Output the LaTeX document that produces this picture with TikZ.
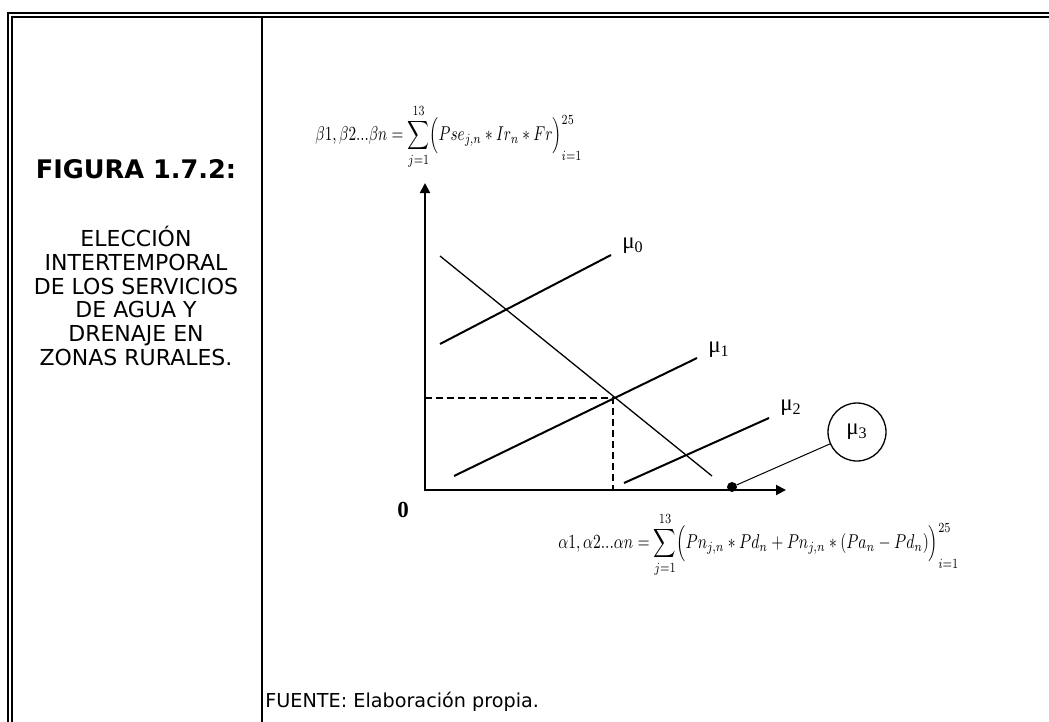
\documentclass[tikz,border=0pt]{standalone}
\usepackage{fontspec}
\usepackage{graphicx}
\setmainfont{DejaVu Sans}
\newfontfamily\tnr{Liberation Serif}
\usetikzlibrary{positioning, arrows.meta}
\newcommand\parscripts[2]{\mathclose{\Bigr)}\rlap{\raisebox{8pt}{$\scriptstyle #1$}}\raisebox{-10pt}{$\scriptstyle #2$}}
\tikzset{
    frame/.style={line width=1pt},
    axis/.style={line width=1pt},
    budget/.style={line width=1pt},
    demand/.style={line width=0.65pt},
    guide/.style={line width=0.65pt, dash pattern=on 3.5pt off 2pt},
    label/.style={font=\tnr\fontsize{11.5}{13}\selectfont, inner sep=1pt},
    formula/.style={font=\fontsize{10}{12}\selectfont, inner sep=0pt},
    title/.style={align=center, font=\fontsize{11}{11.9}\selectfont, inner sep=0pt},
    place/.style={inner sep=0pt, outer sep=0pt}
}
\begin{document}
\begin{tikzpicture}[x=0.5pt, y=-0.5pt, >={Triangle[length=5pt, width=5pt]}]
  \useasboundingbox (0,0) rectangle (1049,722);
  \draw[frame](8.3,722)--(8.3,13)--(1049,13);
  \draw[frame](12.3,722)--(12.3,17)--(1049,17);
  \draw[frame](262,17)--(262,722);
  \node(T)[title, font=\fontsize{12.8}{13}\selectfont\bfseries] at (136,169) {FIGURA 1.7.2:};
  \node(S)[title] at (136,296) {ELECCIÓN\\INTERTEMPORAL\\DE LOS SERVICIOS\\DE AGUA Y\\DRENAJE EN\\ZONAS RURALES.};
  \node(F)[anchor=base west, inner sep=0pt, font=\fontsize{9.6}{10}\selectfont] at (265,707) {FUENTE: Elaboración propia.};
  \coordinate(O) at (425,490);
  \coordinate(Y) at (425,183);
  \coordinate(X) at (786,490);
  \coordinate(A0) at (440,344);
  \coordinate(B0) at (611,255);
  \coordinate(A1) at (454,476);
  \coordinate(B1) at (697,358);
  \coordinate(A2) at (624,483);
  \coordinate(B2) at (769,418);
  \coordinate(C) at (440,256);
  \coordinate(D) at (712,476);
  \coordinate(E) at (613,398);
  \draw[axis, <->](Y)--(O)--(X);
  \draw[budget](A0)--(B0);
  \draw[budget](A1)--(B1);
  \draw[budget](A2)--(B2);
  \draw[demand](C)--(D);
  \draw[guide](O|-E)--(E)--(E|-O);
  \node(M0)[label] at (633,246) {μ\textsubscript{0}};
  \node(M1)[label] at (719,350) {μ\textsubscript{1}};
  \node(M2)[label] at (791,408) {μ\textsubscript{2}};
  \node(P)[place, circle, fill, minimum size=5pt] at (732,487) {};
  \node(M3)[label, circle, draw, line width=0.65pt, minimum size=29pt] at (857,432) {μ\textsubscript{3}};
  \draw[line width=0.5pt](P)--(M3);
  \node(Z)[font=\tnr\fontsize{11.5}{12}\selectfont\bfseries] at (403,510) {0};
  \node(Fb)[formula, anchor=west] at (315,137) {\resizebox{133pt}{\height}{$\displaystyle \beta1,\beta2...\beta n=\sum_{j=1}^{13}\Bigl(Pse_{j,n}*Ir_n*Fr\parscripts{25}{i=1}$}};
  \node(Fa)[formula, anchor=west] at (558,545) {\resizebox{200pt}{\height}{$\displaystyle \alpha1,\alpha2...\alpha n=\sum_{j=1}^{13}\Bigl(Pn_{j,n}*Pd_n+Pn_{j,n}*(Pa_n-Pd_n)\parscripts{25}{i=1}$}};
\end{tikzpicture}
\end{document}
